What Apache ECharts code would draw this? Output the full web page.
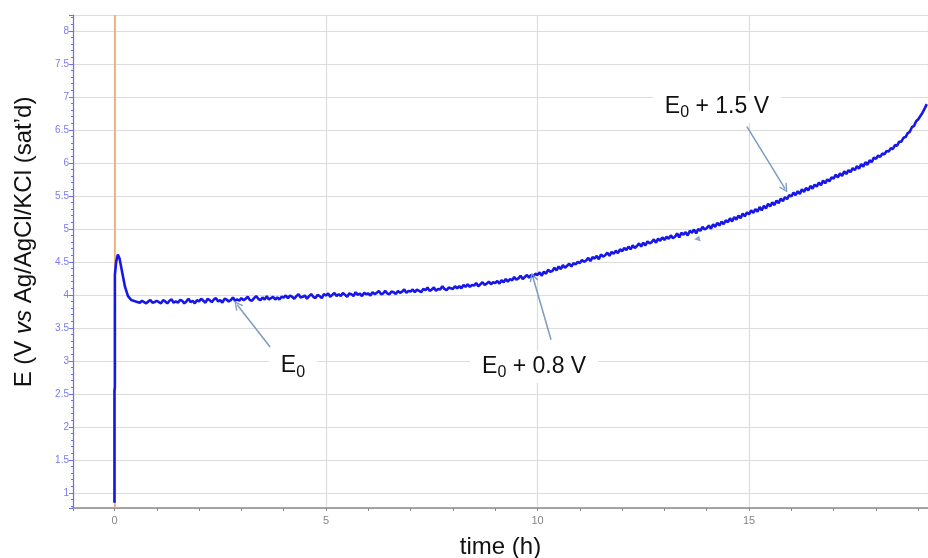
<!DOCTYPE html>
<html><head><meta charset="utf-8">
<script src="https://cdn.jsdelivr.net/npm/echarts@6/dist/echarts.min.js"></script>
<style>html,body{margin:0;padding:0;background:#fff}#c{width:928px;height:558px}</style>
</head><body><div id="c"></div>
<script>
// ---- data ----
const spikeTimes  = [0, 0, 0.01, 0.01, 0.04, 0.08, 0.12, 0.18, 0.25, 0.32, 0.40, 0.50];
const spikeValues = [0.85, 2.55, 2.60, 4.30, 4.50, 4.61, 4.55, 4.35, 4.12, 3.98, 3.92, 3.90];
const mainStart = 0.6;   // h, first sample of the sampled trace
const mainStep = 0.05;   // h between samples
const mainValues = [
  3.88, 3.91, 3.89, 3.87, 3.90, 3.92, 3.88, 3.89,
  3.91, 3.89, 3.87, 3.92, 3.90, 3.87, 3.91, 3.93, 3.88, 3.90, 3.88, 3.92, 3.91, 3.87, 3.90, 3.94, 3.89, 3.91, 3.87, 3.92,
  3.90, 3.94, 3.91, 3.88, 3.94, 3.92, 3.89, 3.93, 3.95, 3.90, 3.92, 3.88, 3.94, 3.93, 3.90, 3.92, 3.96, 3.91, 3.93, 3.91,
  3.95, 3.92, 3.94, 3.97, 3.92, 3.91, 3.95, 3.98, 3.94, 3.92, 3.96, 3.93, 3.98, 3.93, 3.95, 3.97, 3.93, 3.96, 3.93, 3.97,
  3.96, 3.99, 3.95, 3.99, 3.97, 3.94, 3.98, 4.01, 3.96, 3.97, 3.99, 3.94, 3.98, 4.01, 3.97, 3.95, 4.00, 3.98, 3.95, 4.01,
  3.99, 4.02, 3.97, 4.00, 4.03, 3.98, 4.01, 3.98, 4.03, 4.00, 3.97, 4.02, 4.01, 3.98, 4.04, 4.00, 4.02, 3.98, 4.03, 4.01,
  4.02, 3.99, 4.04, 4.01, 4.03, 4.06, 4.01, 4.02, 4.06, 4.02, 4.01, 4.05, 4.04, 4.01, 4.06, 4.03, 4.05, 4.08, 4.03, 4.06,
  4.05, 4.08, 4.04, 4.08, 4.06, 4.04, 4.09, 4.07, 4.11, 4.06, 4.08, 4.11, 4.06, 4.09, 4.08, 4.13, 4.09, 4.07, 4.11, 4.10,
  4.09, 4.13, 4.10, 4.13, 4.10, 4.15, 4.12, 4.16, 4.12, 4.15, 4.14, 4.18, 4.13, 4.16, 4.19, 4.15, 4.17, 4.20, 4.16, 4.19,
  4.18, 4.21, 4.17, 4.22, 4.19, 4.24, 4.20, 4.24, 4.22, 4.27, 4.23, 4.25, 4.29, 4.24, 4.27, 4.30, 4.26, 4.30, 4.28, 4.32,
  4.30, 4.34, 4.29, 4.35, 4.32, 4.38, 4.35, 4.36, 4.41, 4.37, 4.43, 4.39, 4.45, 4.41, 4.44, 4.47, 4.43, 4.48, 4.46, 4.50,
  4.48, 4.53, 4.50, 4.52, 4.56, 4.51, 4.57, 4.55, 4.59, 4.54, 4.61, 4.58, 4.60, 4.64, 4.59, 4.65, 4.62, 4.67, 4.63, 4.69,
  4.66, 4.71, 4.68, 4.73, 4.69, 4.75, 4.71, 4.74, 4.78, 4.73, 4.79, 4.75, 4.81, 4.78, 4.80, 4.84, 4.79, 4.85, 4.82, 4.87,
  4.83, 4.88, 4.85, 4.90, 4.86, 4.88, 4.93, 4.87, 4.94, 4.91, 4.95, 4.90, 4.97, 4.94, 4.99, 4.93, 5.00, 4.97, 5.03, 4.99,
  5.01, 5.05, 5.00, 5.07, 5.03, 5.09, 5.05, 5.11, 5.07, 5.13, 5.10, 5.16, 5.11, 5.18, 5.14, 5.20, 5.16, 5.23, 5.19, 5.25,
  5.22, 5.28, 5.24, 5.30, 5.26, 5.33, 5.28, 5.35, 5.31, 5.38, 5.34, 5.40, 5.36, 5.43, 5.39, 5.46, 5.42, 5.48, 5.45, 5.51,
  5.49, 5.55, 5.51, 5.57, 5.53, 5.60, 5.56, 5.62, 5.58, 5.65, 5.61, 5.67, 5.64, 5.70, 5.66, 5.73, 5.69, 5.75, 5.72, 5.78,
  5.76, 5.82, 5.78, 5.84, 5.80, 5.87, 5.83, 5.89, 5.86, 5.92, 5.89, 5.95, 5.91, 5.98, 5.94, 6.01, 5.97, 6.04, 6.01, 6.08,
  6.06, 6.11, 6.09, 6.14, 6.13, 6.18, 6.17, 6.22, 6.21, 6.27, 6.26, 6.32, 6.32, 6.38, 6.39, 6.45, 6.47, 6.54, 6.56, 6.63,
  6.66, 6.71, 6.76, 6.82, 6.89
];
const xRange = [-0.98, 19.23];
const yRange = [0.77, 8.24];

const annotationLabels = ['{m|E}{s|0}', '{m|E}{s|0}{m| + 0.8 V}', '{m|E}{s|0}{m| + 1.5 V}'];
const annotationAnchors = [[4.22, 2.92], [9.92, 2.91], [14.24, 6.85]];
const arrowTails = [[3.68, 3.21], [10.32, 3.32], [14.95, 6.55]];
const arrowHeads = [[2.90, 3.85], [9.89, 4.27], [15.85, 5.61]];
const strayMark = [13.8, 4.86];

// ---- build ----
const trace = [];
spikeTimes.forEach((t, i) => trace.push([t, spikeValues[i]]));
mainValues.forEach((v, i) => trace.push([+(mainStart + i * mainStep).toFixed(2), v]));

const FONT = 'Liberation Sans, Arial, sans-serif';
const chevron = 'path://M0,10 L5,0 L10,10 L8.6,10.6 L5,3.2 L1.4,10.6 Z';

const chart = echarts.init(document.getElementById('c'), null, {renderer: 'canvas'});
chart.setOption({
  animation: false,
  backgroundColor: '#ffffff',
  grid: {left: 73, right: 0, top: 15, bottom: 50, containLabel: false, outerBoundsMode: 'none'},
  xAxis: {
    type: 'value', min: xRange[0], max: xRange[1], splitNumber: 4,
    name: 'time (h)', nameLocation: 'middle', nameGap: 27,
    nameTextStyle: {fontFamily: FONT, fontSize: 24, color: '#111'},
    axisLine: {show: true, onZero: false, lineStyle: {color: '#8a8a8a', width: 1.5}},
    axisTick: {show: true, length: 3, lineStyle: {color: '#8a8a8a'}},
    minorTick: {show: true, splitNumber: 5, length: 3, lineStyle: {color: '#8a8a8a'}},
    axisLabel: {color: '#858585', fontFamily: FONT, fontSize: 11, margin: 7,
      showMinLabel: false, showMaxLabel: false},
    splitLine: {show: true, lineStyle: {color: '#dcdcdc', width: 1.2}}
  },
  yAxis: {
    type: 'value', min: yRange[0], max: yRange[1], splitNumber: 15,
    axisLine: {show: true, onZero: false, lineStyle: {color: '#6f6ff2', width: 1.2}},
    axisTick: {show: true, length: 4, lineStyle: {color: '#6f6ff2'}},
    minorTick: {show: true, splitNumber: 5, length: 2, lineStyle: {color: '#6f6ff2'}},
    axisLabel: {color: '#7b7bef', fontFamily: FONT, fontSize: 10, margin: 4,
      showMinLabel: false, showMaxLabel: false},
    splitLine: {show: true, lineStyle: {color: '#dcdcdc', width: 1.2}}
  },
  graphic: [{
    type: 'text', x: 24, y: 242, rotation: Math.PI / 2,
    style: {
      text: '{n|E (V }{i|vs}{n| Ag/AgCl/KCl (sat\u2019d)}',
      align: 'center', verticalAlign: 'middle',
      rich: {
        n: {fontFamily: FONT, fontSize: 24, fill: '#111'},
        i: {fontFamily: FONT, fontSize: 24, fontStyle: 'italic', fill: '#111'}
      }
    }
  }],
  series: [{
    type: 'line', data: trace, showSymbol: false, z: 3, clip: true,
    lineStyle: {color: '#1717e8', width: 2.6}, itemStyle: {color: '#1717e8'},
    markLine: {
      silent: true, symbol: ['none', 'none'], z: 1, animation: false,
      label: {show: false},
      lineStyle: {color: '#f4a35c', width: 1.5, type: 'solid'},
      data: [{xAxis: 0}]
    }
  }, {
    type: 'line', data: [], z: 6,
    markLine: {
      silent: true, z: 6, animation: false,
      symbol: ['none', chevron], symbolSize: [9, 9],
      label: {show: false},
      lineStyle: {color: '#7d9cc0', width: 1.5, type: 'solid'},
      itemStyle: {color: '#7d9cc0'},
      data: arrowTails.map((t, i) => [{coord: t}, {coord: arrowHeads[i]}])
    },
    markPoint: {
      silent: true, z: 7, animation: false,
      data: annotationAnchors.map((a, i) => ({
        coord: a, symbol: 'circle', symbolSize: 1, itemStyle: {color: 'rgba(0,0,0,0)'},
        label: {
          show: true, position: 'inside', formatter: annotationLabels[i],
          backgroundColor: '#ffffff', padding: [2, 12],
          rich: {
            m: {fontFamily: FONT, fontSize: 23, color: '#111', lineHeight: 28, verticalAlign: 'middle'},
            s: {fontFamily: FONT, fontSize: 16, color: '#111', lineHeight: 14, verticalAlign: 'bottom'}
          }
        }
      })).concat([{
        coord: strayMark, symbol: 'triangle', symbolSize: [7, 5], symbolRotate: -20,
        itemStyle: {color: '#8fa6c6'}, label: {show: false}
      }])
    }
  }]
});
</script>
</body></html>
